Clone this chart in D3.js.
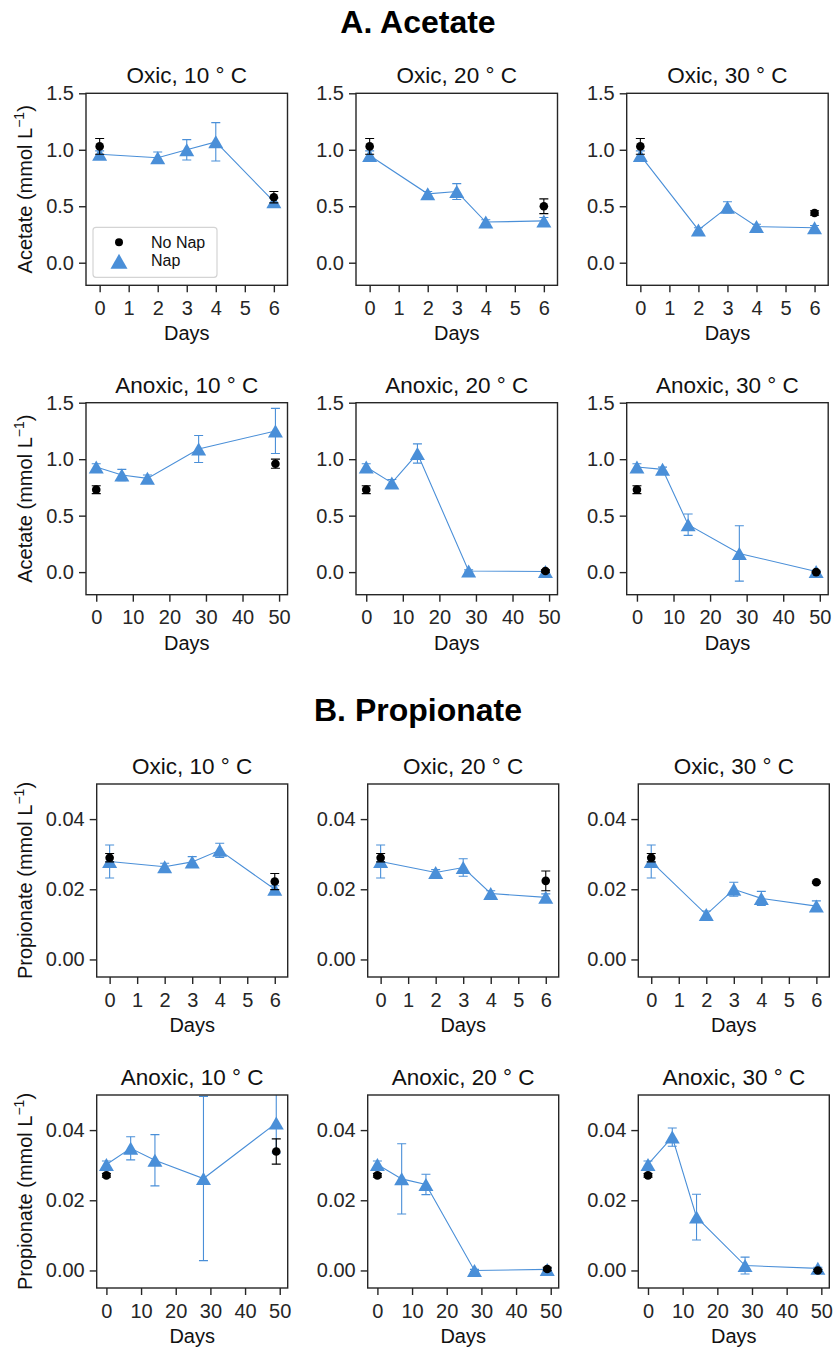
<!DOCTYPE html>
<html>
<head>
<meta charset="utf-8">
<script src="https://cdn.jsdelivr.net/npm/d3@7/dist/d3.min.js"></script>
<style>
    body { margin: 0; background: #fff; }
    svg text { font-family: "Liberation Sans", Arial, Helvetica, sans-serif; }
</style>
</head>
<body>
<div id="chart"></div>
<script>
// Acetate / propionate time courses, Nap vs No Nap

const temps = ['10', '20', '30'];
const oxicDays = [0, 2, 3, 4, 6];
const anoxicDays = [0, 7, 14, 28, 49];
const oxicNoNapDays = [0, 6];
const anoxicNoNapDays = [0, 49];
const oxicDayTicks = [0, 1, 2, 3, 4, 5, 6];
const anoxicDayTicks = [0, 10, 20, 30, 40, 50];
const acetateTicks = [0, 0.5, 1.0, 1.5];
const propionateTicks = [0, 0.02, 0.04];

// Acetate (mmol/L), one row per temperature
const acetateOxicNap = [[0.96, 0.93, 1.00, 1.07, 0.54], [0.95, 0.61, 0.63, 0.36, 0.37], [0.95, 0.29, 0.49, 0.32, 0.31]];
const acetateOxicNapErr = [[0.03, 0.05, 0.09, 0.17, 0.03], [0.04, 0.02, 0.07, 0.02, 0.03], [0.04, 0.02, 0.05, 0.02, 0.02]];
const acetateOxicNoNap = [[1.03, 0.58], [1.03, 0.50], [1.03, 0.44]];
const acetateOxicNoNapErr = [[0.07, 0.05], [0.07, 0.065], [0.07, 0.02]];
const acetateAnoxicNap = [[0.93, 0.86, 0.83, 1.09, 1.25], [0.93, 0.79, 1.05, 0.01, 0.005], [0.93, 0.91, 0.42, 0.165, 0.005]];
const acetateAnoxicNapErr = [[0.03, 0.05, 0.03, 0.12, 0.2], [0.03, 0.03, 0.085, 0.01, 0.01], [0.03, 0.02, 0.095, 0.245, 0.01]];
const acetateAnoxicNoNap = [[0.73, 0.96], [0.73, 0.01], [0.73, 0.0]];
const acetateAnoxicNoNapErr = [[0.035, 0.04], [0.035, 0.01], [0.035, 0.005]];

// Propionate (mmol/L)
const propOxicNap = [[0.0279, 0.0264, 0.0278, 0.0311, 0.0200], [0.0279, 0.0248, 0.0262, 0.0188, 0.0177], [0.0279, 0.0128, 0.0200, 0.0174, 0.0152]];
const propOxicNapErr = [[0.0047, 0.001, 0.0015, 0.002, 0.001], [0.0047, 0.0008, 0.0025, 0.0008, 0.001], [0.0047, 0.001, 0.002, 0.002, 0.0015]];
const propOxicNoNap = [[0.029, 0.0222], [0.029, 0.0224], [0.029, 0.022]];
const propOxicNoNapErr = [[0.0012, 0.0023], [0.0012, 0.0028], [0.0012, 0.0003]];
const propAnoxicNap = [[0.0302, 0.0348, 0.0314, 0.0262, 0.0420], [0.0302, 0.0261, 0.0245, 0.0000, 0.0003], [0.0302, 0.0380, 0.0152, 0.0014, 0.0006]];
const propAnoxicNapErr = [[0.001, 0.0033, 0.0073, 0.0234, 0.0085], [0.001, 0.01, 0.0029, 0.0003, 0.0003], [0.001, 0.0026, 0.0065, 0.0024, 0.0003]];
const propAnoxicNoNap = [[0.0271, 0.0339], [0.0271, 0.0004], [0.0271, 0.0]];
const propAnoxicNoNapErr = [[0.0005, 0.0036], [0.0005, 0.0005], [0.0005, 0.0003]];

const napColor = '#4a8fd8';
const inkColor = '#262626';

const svg = d3.select('#chart')
    .append('svg')
    .attr('width', 836)
    .attr('height', 1348);

let clipCount = 0;

function triPath(w, h) {
    return `M0,${-h / 2}L${w / 2},${h / 2}L${-w / 2},${h / 2}Z`;
}

function errBars(g, pts, x, y, color) {
    pts.forEach(d => {
        const cx = x(d.x);
        g.append('line')
            .attr('x1', cx).attr('x2', cx)
            .attr('y1', y(d.y - d.e)).attr('y2', y(d.y + d.e))
            .attr('stroke', color).attr('stroke-width', 1.1);
        [d.y - d.e, d.y + d.e].forEach(v => {
            g.append('line')
                .attr('x1', cx - 4.5).attr('x2', cx + 4.5)
                .attr('y1', y(v)).attr('y2', y(v))
                .attr('stroke', color).attr('stroke-width', 1.1);
        });
    });
}

function drawPanel(p) {
    const x = d3.scaleLinear().domain(p.xDomain).range([p.left, p.left + p.width]);
    const y = d3.scaleLinear().domain(p.yDomain).range([p.top + p.height, p.top]);
    const bottom = p.top + p.height;

    const clipId = 'clip-' + (clipCount++);
    svg.append('clipPath').attr('id', clipId)
        .append('rect')
        .attr('x', p.left).attr('y', p.top)
        .attr('width', p.width).attr('height', p.height);

    // X axis
    const xAxis = svg.append('g')
        .attr('transform', `translate(0,${bottom})`)
        .call(d3.axisBottom(x).tickValues(p.xTicks).tickFormat(d3.format('d')).tickSize(7).tickPadding(8.5));
    xAxis.attr('font-family', null).attr('font-size', 20);
    xAxis.select('.domain').remove();
    xAxis.selectAll('line').attr('stroke', inkColor).attr('stroke-width', 1.4);
    xAxis.selectAll('text').attr('fill', inkColor);

    // Y axis
    const yAxis = svg.append('g')
        .attr('transform', `translate(${p.left},0)`)
        .call(d3.axisLeft(y).tickValues(p.yTicks).tickFormat(d3.format(p.yFormat)).tickSize(7).tickPadding(5));
    yAxis.attr('font-family', null).attr('font-size', 20);
    yAxis.select('.domain').remove();
    yAxis.selectAll('line').attr('stroke', inkColor).attr('stroke-width', 1.4);
    yAxis.selectAll('text').attr('fill', inkColor);

    const plot = svg.append('g').attr('clip-path', `url(#${clipId})`);

    // Nap series
    const napPts = p.napDays.map((d, i) => ({ x: d, y: p.nap[i], e: p.napErr[i] }));
    errBars(plot, napPts, x, y, napColor);
    plot.append('path')
        .datum(napPts)
        .attr('d', d3.line().x(d => x(d.x)).y(d => y(d.y)))
        .attr('fill', 'none')
        .attr('stroke', napColor)
        .attr('stroke-width', 1.1);
    plot.selectAll('.tri')
        .data(napPts)
        .join('path')
        .attr('class', 'tri')
        .attr('transform', d => `translate(${x(d.x)},${y(d.y)})`)
        .attr('d', triPath(15, 13))
        .attr('fill', napColor);

    // No Nap series
    const noPts = p.noNapDays.map((d, i) => ({ x: d, y: p.noNap[i], e: p.noNapErr[i] }));
    errBars(plot, noPts, x, y, '#000');
    plot.selectAll('.dot')
        .data(noPts)
        .join('circle')
        .attr('class', 'dot')
        .attr('cx', d => x(d.x))
        .attr('cy', d => y(d.y))
        .attr('r', 4.3)
        .attr('fill', '#000');

    // Frame
    svg.append('rect')
        .attr('x', p.left).attr('y', p.top)
        .attr('width', p.width).attr('height', p.height)
        .attr('fill', 'none')
        .attr('stroke', inkColor)
        .attr('stroke-width', 1.4);

    // Title
    svg.append('text')
        .attr('x', p.left + p.width / 2)
        .attr('y', p.top - 10)
        .attr('text-anchor', 'middle')
        .attr('font-size', 22.5)
        .attr('fill', '#111')
        .text(p.title);

    // X label
    svg.append('text')
        .attr('x', p.left + p.width / 2)
        .attr('y', bottom + 55)
        .attr('text-anchor', 'middle')
        .attr('font-size', 20)
        .attr('fill', '#111')
        .text('Days');

    // Y label
    if (p.yLabel) {
        const t = svg.append('text')
            .attr('transform', `translate(31.5,${p.top + p.height / 2}) rotate(-90)`)
            .attr('text-anchor', 'middle')
            .attr('font-size', 20)
            .attr('fill', '#111');
        t.append('tspan').text(p.yLabel + ' (mmol L');
        t.append('tspan').attr('dy', -8).attr('font-size', 14).text('\u22121');
        t.append('tspan').attr('dy', 8).text(')');
    }

    // Legend
    if (p.legend) {
        const lx = p.left + 7;
        const ly = bottom - 58;
        const lg = svg.append('g');
        lg.append('rect')
            .attr('x', lx).attr('y', ly)
            .attr('width', 124).attr('height', 50)
            .attr('rx', 3)
            .attr('fill', '#fff').attr('fill-opacity', 0.8)
            .attr('stroke', '#d4d4d4').attr('stroke-width', 1.2);
        lg.append('circle')
            .attr('cx', lx + 26).attr('cy', ly + 15)
            .attr('r', 4).attr('fill', '#000');
        lg.append('text')
            .attr('x', lx + 58).attr('y', ly + 20.5)
            .attr('font-size', 16).attr('fill', '#111')
            .text('No Nap');
        lg.append('path')
            .attr('transform', `translate(${lx + 26},${ly + 34})`)
            .attr('d', triPath(17, 15))
            .attr('fill', napColor);
        lg.append('text')
            .attr('x', lx + 58).attr('y', ly + 39)
            .attr('font-size', 16).attr('fill', '#111')
            .text('Nap');
    }
}

// Section titles
svg.append('text')
    .attr('x', 418).attr('y', 33)
    .attr('text-anchor', 'middle')
    .attr('font-size', 32).attr('font-weight', 'bold')
    .attr('fill', '#000')
    .text('A. Acetate');

svg.append('text')
    .attr('x', 418).attr('y', 721)
    .attr('text-anchor', 'middle')
    .attr('font-size', 32).attr('font-weight', 'bold')
    .attr('fill', '#000')
    .text('B. Propionate');

// Layout
const acetateLefts = [86, 356, 626.7];
const acetateTops = [93.3, 402.7];
const propLefts = [96.7, 367.7, 638.3];
const propTops = [784, 1095];

const oxicDomain = [-0.47, 6.47];
const anoxicDomain = [-2.8, 52.3];

temps.forEach((t, i) => {
    drawPanel({
        left: acetateLefts[i], top: acetateTops[0], width: 201.5, height: 192,
        xDomain: oxicDomain, xTicks: oxicDayTicks,
        yDomain: [-0.2, 1.5], yTicks: acetateTicks, yFormat: '.1f',
        title: `Oxic, ${t} \u00B0 C`,
        napDays: oxicDays, nap: acetateOxicNap[i], napErr: acetateOxicNapErr[i],
        noNapDays: oxicNoNapDays, noNap: acetateOxicNoNap[i], noNapErr: acetateOxicNoNapErr[i],
        yLabel: i === 0 ? 'Acetate' : null,
        legend: i === 0
    });
    drawPanel({
        left: acetateLefts[i], top: acetateTops[1], width: 201.5, height: 192,
        xDomain: anoxicDomain, xTicks: anoxicDayTicks,
        yDomain: [-0.2, 1.5], yTicks: acetateTicks, yFormat: '.1f',
        title: `Anoxic, ${t} \u00B0 C`,
        napDays: anoxicDays, nap: acetateAnoxicNap[i], napErr: acetateAnoxicNapErr[i],
        noNapDays: anoxicNoNapDays, noNap: acetateAnoxicNoNap[i], noNapErr: acetateAnoxicNoNapErr[i],
        yLabel: i === 0 ? 'Acetate' : null,
        legend: false
    });
    drawPanel({
        left: propLefts[i], top: propTops[0], width: 191, height: 193,
        xDomain: oxicDomain, xTicks: oxicDayTicks,
        yDomain: [-0.005, 0.05], yTicks: propionateTicks, yFormat: '.2f',
        title: `Oxic, ${t} \u00B0 C`,
        napDays: oxicDays, nap: propOxicNap[i], napErr: propOxicNapErr[i],
        noNapDays: oxicNoNapDays, noNap: propOxicNoNap[i], noNapErr: propOxicNoNapErr[i],
        yLabel: i === 0 ? 'Propionate' : null,
        legend: false
    });
    drawPanel({
        left: propLefts[i], top: propTops[1], width: 191, height: 193,
        xDomain: anoxicDomain, xTicks: anoxicDayTicks,
        yDomain: [-0.005, 0.05], yTicks: propionateTicks, yFormat: '.2f',
        title: `Anoxic, ${t} \u00B0 C`,
        napDays: anoxicDays, nap: propAnoxicNap[i], napErr: propAnoxicNapErr[i],
        noNapDays: anoxicNoNapDays, noNap: propAnoxicNoNap[i], noNapErr: propAnoxicNoNapErr[i],
        yLabel: i === 0 ? 'Propionate' : null,
        legend: false
    });
});
</script>
</body>
</html>
